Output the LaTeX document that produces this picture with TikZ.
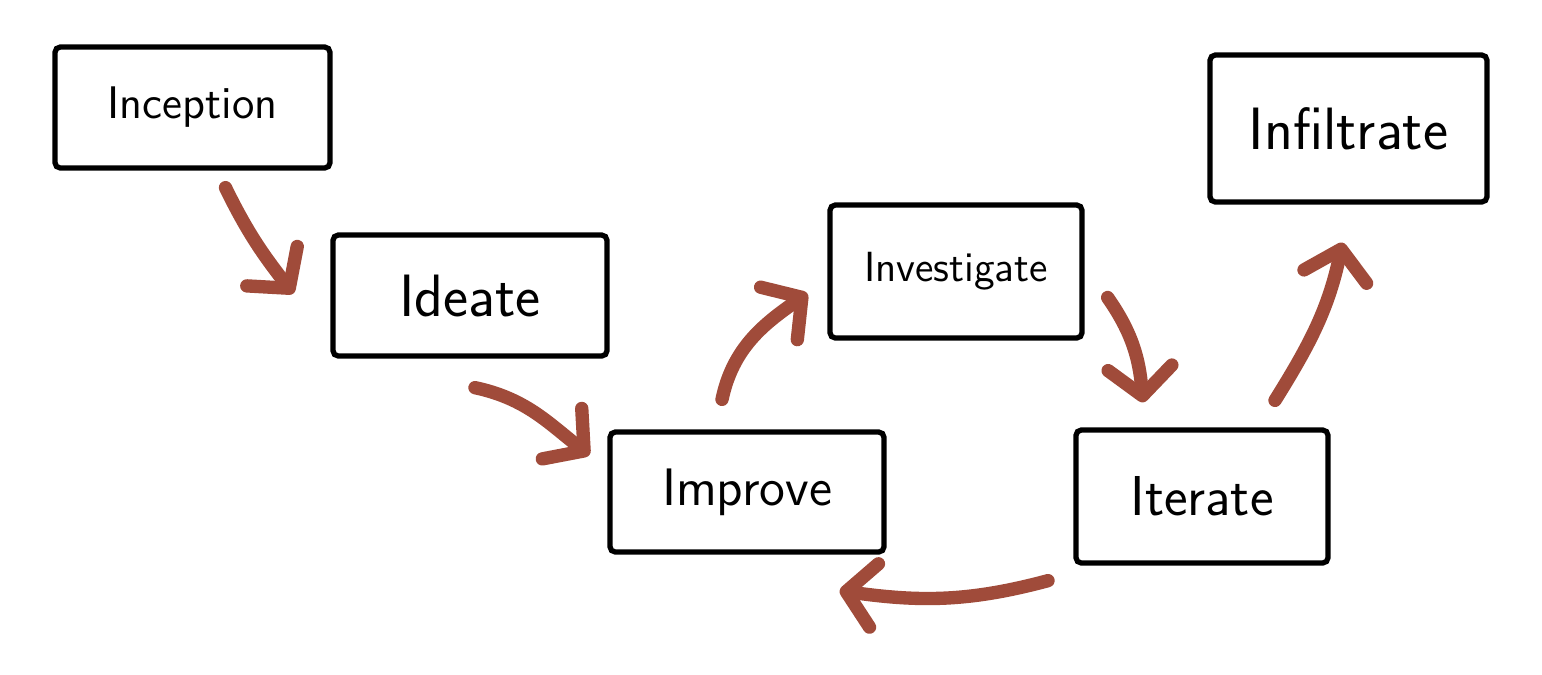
\documentclass[tikz,border=0pt]{standalone}
\usetikzlibrary{arrows.meta}
\definecolor{rust}{RGB}{160,75,58}
\tikzset{
  box/.style={draw=black, line width=1.5pt, rounded corners=1.5pt, inner sep=0pt, font=\sffamily},
  arr/.style={draw=rust, line width=3.8pt, line cap=round,
    -{Straight Barb[length=0.28cm,width=0.64cm,round]}},
}
\begin{document}
\begin{tikzpicture}
\useasboundingbox[fill=white] (0,0) rectangle (15.42,-6.74);
% boxes
\node[box, minimum width=2.75cm, minimum height=1.21cm, font=\sffamily\fontsize{13}{16}\selectfont] (inc) at (1.925,-1.075) {Inception};
\node[box, minimum width=2.74cm, minimum height=1.21cm, font=\sffamily\fontsize{17}{20}\selectfont] (ide) at (4.70,-2.955) {Ideate};
\node[box, minimum width=2.74cm, minimum height=1.20cm, font=\sffamily\fontsize{15}{18}\selectfont] (imp) at (7.47,-4.92) {Improve};
\node[box, minimum width=2.52cm, minimum height=1.33cm, font=\sffamily\fontsize{12}{15}\selectfont] (inv) at (9.56,-2.715) {Investigate};
\node[box, minimum width=2.52cm, minimum height=1.33cm, font=\sffamily\fontsize{16}{19}\selectfont] (ite) at (12.02,-4.965) {Iterate};
\node[box, minimum width=2.77cm, minimum height=1.47cm, font=\sffamily\fontsize{17}{20}\selectfont] (inf) at (13.485,-1.285) {Infiltrate};
% arrows
\draw[arr] ([shift={(0.33,-0.17)}]inc.south) to[out=-64,in=128] ([shift={(-0.37,0.02)}]ide.west);
\draw[arr] ([shift={(0.05,-0.29)}]ide.south) to[out=-12,in=142] ([shift={(-0.18,0.37)}]imp.west);
\draw[arr] ([shift={(-0.25,0.30)}]imp.north) to[out=78,in=215] ([shift={(-0.20,-0.22)}]inv.west);
\draw[arr] ([shift={(0.23,-0.26)}]inv.east) to[out=-55,in=95] ([shift={(-0.59,0.25)}]ite.north);
\draw[arr] ([shift={(-1.54,-0.15)}]ite.south) to[out=195,in=-8] ([shift={(-0.47,-0.36)}]imp.south east);
\draw[arr] ([shift={(0.73,0.27)}]ite.north) to[out=58,in=-102] ([shift={(-0.06,-0.38)}]inf.south);
\end{tikzpicture}
\end{document}
